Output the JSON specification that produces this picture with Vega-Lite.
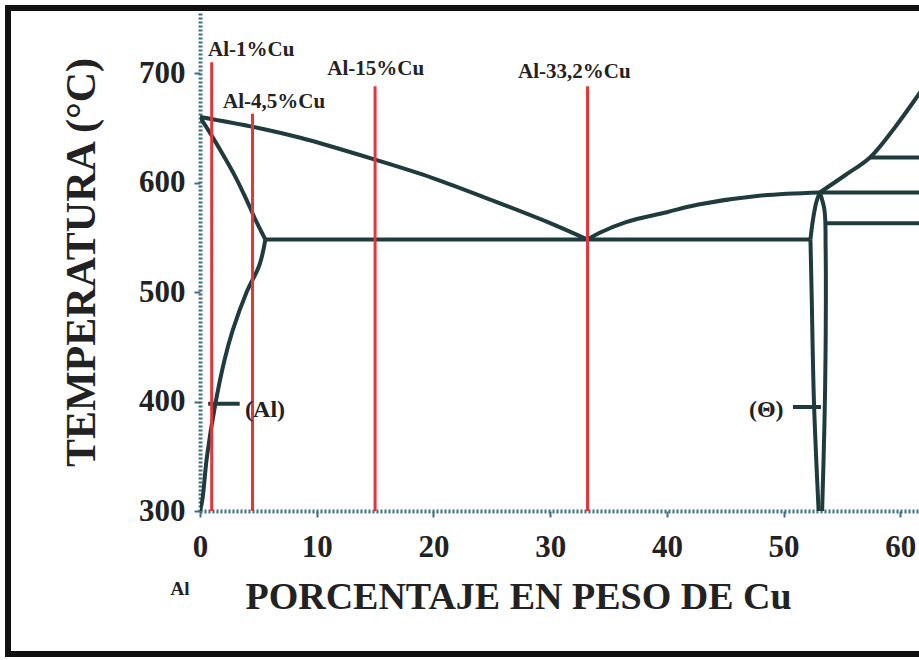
{
  "$schema": "https://vega.github.io/schema/vega-lite/v6.json",
  "width": 719,
  "height": 498,
  "autosize": {"type": "none"},
  "padding": {"left": 200, "top": 13, "right": 0, "bottom": 149},
  "background": "white",
  "config": {"view": {"stroke": null}, "font": "Liberation Serif"},
  "datasets": {
    "phase": [
      {"curve": "liqL", "i": 0, "x": 0, "T": 660},
      {"curve": "liqL", "i": 1, "x": 5, "T": 650},
      {"curve": "liqL", "i": 2, "x": 8.6, "T": 641},
      {"curve": "liqL", "i": 3, "x": 15, "T": 621},
      {"curve": "liqL", "i": 4, "x": 20, "T": 604},
      {"curve": "liqL", "i": 5, "x": 25, "T": 584},
      {"curve": "liqL", "i": 6, "x": 30, "T": 563},
      {"curve": "liqL", "i": 7, "x": 33.2, "T": 548},
      {"curve": "solL", "i": 0, "x": 0, "T": 660},
      {"curve": "solL", "i": 1, "x": 1, "T": 643},
      {"curve": "solL", "i": 2, "x": 2, "T": 625},
      {"curve": "solL", "i": 3, "x": 3, "T": 606},
      {"curve": "solL", "i": 4, "x": 4, "T": 584},
      {"curve": "solL", "i": 5, "x": 4.8, "T": 565},
      {"curve": "solL", "i": 6, "x": 5.6, "T": 548},
      {"curve": "solvus", "i": 0, "x": 5.6, "T": 548},
      {"curve": "solvus", "i": 1, "x": 5.1, "T": 525},
      {"curve": "solvus", "i": 2, "x": 4.0, "T": 500},
      {"curve": "solvus", "i": 3, "x": 2.8, "T": 465},
      {"curve": "solvus", "i": 4, "x": 2.1, "T": 438},
      {"curve": "solvus", "i": 5, "x": 1.3, "T": 397},
      {"curve": "solvus", "i": 6, "x": 0.6, "T": 350},
      {"curve": "solvus", "i": 7, "x": 0.2, "T": 310},
      {"curve": "solvus", "i": 8, "x": 0, "T": 300},
      {"curve": "eut", "i": 0, "x": 5.6, "T": 548},
      {"curve": "eut", "i": 1, "x": 52.3, "T": 548},
      {"curve": "liqR", "i": 0, "x": 33.2, "T": 548},
      {"curve": "liqR", "i": 1, "x": 34.2, "T": 554},
      {"curve": "liqR", "i": 2, "x": 36.5, "T": 564},
      {"curve": "liqR", "i": 3, "x": 40, "T": 573},
      {"curve": "liqR", "i": 4, "x": 42.7, "T": 580},
      {"curve": "liqR", "i": 5, "x": 47.9, "T": 588},
      {"curve": "liqR", "i": 6, "x": 53.1, "T": 591},
      {"curve": "thetaLup", "i": 0, "x": 53.1, "T": 591},
      {"curve": "thetaLup", "i": 1, "x": 52.8, "T": 582},
      {"curve": "thetaLup", "i": 2, "x": 52.5, "T": 565},
      {"curve": "thetaLup", "i": 3, "x": 52.3, "T": 548},
      {"curve": "thetaLdn", "i": 0, "x": 52.3, "T": 548},
      {"curve": "thetaLdn", "i": 1, "x": 52.4, "T": 500},
      {"curve": "thetaLdn", "i": 2, "x": 52.6, "T": 400},
      {"curve": "thetaLdn", "i": 3, "x": 53.0, "T": 300},
      {"curve": "thetaR", "i": 0, "x": 53.1, "T": 591},
      {"curve": "thetaR", "i": 1, "x": 53.5, "T": 575},
      {"curve": "thetaR", "i": 2, "x": 53.6, "T": 540},
      {"curve": "thetaR", "i": 3, "x": 53.6, "T": 450},
      {"curve": "thetaR", "i": 4, "x": 53.5, "T": 380},
      {"curve": "thetaR", "i": 5, "x": 53.3, "T": 300},
      {"curve": "h591", "i": 0, "x": 53.1, "T": 591},
      {"curve": "h591", "i": 1, "x": 61.6, "T": 591},
      {"curve": "upper", "i": 0, "x": 53.1, "T": 591},
      {"curve": "upper", "i": 1, "x": 55.3, "T": 607},
      {"curve": "upper", "i": 2, "x": 57.4, "T": 623},
      {"curve": "upper", "i": 3, "x": 59.5, "T": 650},
      {"curve": "upper", "i": 4, "x": 61.6, "T": 681},
      {"curve": "upper", "i": 5, "x": 62.5, "T": 695},
      {"curve": "h623", "i": 0, "x": 57.4, "T": 623},
      {"curve": "h623", "i": 1, "x": 61.6, "T": 623},
      {"curve": "h563", "i": 0, "x": 53.6, "T": 563},
      {"curve": "h563", "i": 1, "x": 61.6, "T": 563},
      {"curve": "ptrAl", "i": 0, "x": 0.7, "T": 398},
      {"curve": "ptrAl", "i": 1, "x": 3.4, "T": 398},
      {"curve": "ptrTheta", "i": 0, "x": 50.8, "T": 395},
      {"curve": "ptrTheta", "i": 1, "x": 53.2, "T": 395}
    ],
    "alloys": [
      {"x": 1, "T": 710, "Tb": 300, "label": "Al-1%Cu", "lx": 0.69, "lT": 721},
      {"x": 4.5, "T": 663, "Tb": 300, "label": "Al-4,5%Cu", "lx": 1.97, "lT": 674},
      {"x": 15, "T": 688, "Tb": 300, "label": "Al-15%Cu", "lx": 10.9, "lT": 704},
      {"x": 33.2, "T": 688, "Tb": 300, "label": "Al-33,2%Cu", "lx": 27.25, "lT": 701}
    ],
    "phaseLabelsL": [{"x": 3.86, "T": 392, "label": "(Al)"}],
    "phaseLabelsR": [{"x": 50.0, "T": 392, "label": "(Θ)"}],
    "alLabel": [{"x": -1.71, "T": 229, "label": "Al"}],
    "frame": [{"fx": -16.45, "fx2": 70, "fT": 759.6, "fT2": 169.4}]
  },
  "layer": [
    {
      "data": {"name": "phase"},
      "mark": {"type": "line", "color": "#1f3b3d", "strokeWidth": 4, "clip": true, "strokeJoin": "round", "interpolate": "catmull-rom"},
      "encoding": {
        "x": {
          "field": "x",
          "type": "quantitative",
          "scale": {"domain": [0, 61.6], "nice": false, "zero": false},
          "axis": {
            "values": [0, 10, 20, 30, 40, 50, 60],
            "format": "d",
            "grid": false,
            "labelFont": "Liberation Serif",
            "labelFontSize": 31,
            "labelFontWeight": "bold",
            "labelColor": "#222222",
            "labelPadding": 15,
            "labelFlush": false,
            "labelOverlap": false,
            "tickColor": "#3f6f80",
            "tickSize": 6,
            "tickWidth": 2,
            "domainColor": "#3f6f80",
            "domainWidth": 4,
            "domainDash": [2, 2],
            "title": "PORCENTAJE EN PESO DE Cu",
            "titleFont": "Liberation Serif",
            "titleFontSize": 38,
            "titleFontWeight": "bold",
            "titleColor": "#222222",
            "titlePadding": 16,
            "titleX": 318,
            "titleAlign": "center"
          }
        },
        "y": {
          "field": "T",
          "type": "quantitative",
          "scale": {"domain": [300, 755], "nice": false, "zero": false},
          "axis": {
            "values": [300, 400, 500, 600, 700],
            "grid": false,
            "labelFont": "Liberation Serif",
            "labelFontSize": 31,
            "labelFontWeight": "bold",
            "labelColor": "#222222",
            "labelPadding": 9,
            "labelFlush": false,
            "labelOverlap": false,
            "tickColor": "#3f6f80",
            "tickSize": 6,
            "tickWidth": 2,
            "domainColor": "#3f6f80",
            "domainWidth": 4,
            "domainDash": [2, 2],
            "title": "TEMPERATURA (°C)",
            "titleFont": "Liberation Serif",
            "titleFontSize": 42,
            "titleFontWeight": "bold",
            "titleColor": "#222222",
            "titlePadding": 35
          }
        },
        "detail": {"field": "curve", "type": "nominal"},
        "order": {"field": "i", "type": "quantitative"}
      }
    },
    {
      "data": {"name": "frame"},
      "mark": {"type": "rect", "fill": "transparent", "stroke": "#111111", "strokeWidth": 6, "clip": false},
      "encoding": {
        "x": {"field": "fx", "type": "quantitative", "title": "PORCENTAJE EN PESO DE Cu"},
        "x2": {"field": "fx2"},
        "y": {"field": "fT", "type": "quantitative", "title": "TEMPERATURA (°C)"},
        "y2": {"field": "fT2"}
      }
    },
    {
      "data": {"name": "alloys"},
      "mark": {"type": "rule", "color": "#e0383a", "strokeWidth": 3},
      "encoding": {
        "x": {"field": "x", "type": "quantitative", "title": "PORCENTAJE EN PESO DE Cu"},
        "y": {"field": "T", "type": "quantitative", "title": "TEMPERATURA (°C)"},
        "y2": {"field": "Tb"}
      }
    },
    {
      "data": {"name": "alloys"},
      "mark": {"type": "text", "align": "left", "baseline": "middle", "font": "Liberation Serif", "fontWeight": "bold", "fontSize": 21, "color": "#222222"},
      "encoding": {
        "x": {"field": "lx", "type": "quantitative", "title": "PORCENTAJE EN PESO DE Cu"},
        "y": {"field": "lT", "type": "quantitative", "title": "TEMPERATURA (°C)"},
        "text": {"field": "label"}
      }
    },
    {
      "data": {"name": "phaseLabelsL"},
      "mark": {"type": "text", "align": "left", "baseline": "middle", "font": "Liberation Serif", "fontWeight": "bold", "fontSize": 24, "color": "#222222"},
      "encoding": {
        "x": {"field": "x", "type": "quantitative", "title": "PORCENTAJE EN PESO DE Cu"},
        "y": {"field": "T", "type": "quantitative", "title": "TEMPERATURA (°C)"},
        "text": {"field": "label"}
      }
    },
    {
      "data": {"name": "phaseLabelsR"},
      "mark": {"type": "text", "align": "right", "baseline": "middle", "font": "Liberation Serif", "fontWeight": "bold", "fontSize": 24, "color": "#222222"},
      "encoding": {
        "x": {"field": "x", "type": "quantitative", "title": "PORCENTAJE EN PESO DE Cu"},
        "y": {"field": "T", "type": "quantitative", "title": "TEMPERATURA (°C)"},
        "text": {"field": "label"}
      }
    },
    {
      "data": {"name": "alLabel"},
      "mark": {"type": "text", "align": "center", "baseline": "middle", "font": "Liberation Serif", "fontWeight": "bold", "fontSize": 19, "color": "#222222"},
      "encoding": {
        "x": {"field": "x", "type": "quantitative", "title": "PORCENTAJE EN PESO DE Cu"},
        "y": {"field": "T", "type": "quantitative", "title": "TEMPERATURA (°C)"},
        "text": {"field": "label"}
      }
    }
  ]
}
